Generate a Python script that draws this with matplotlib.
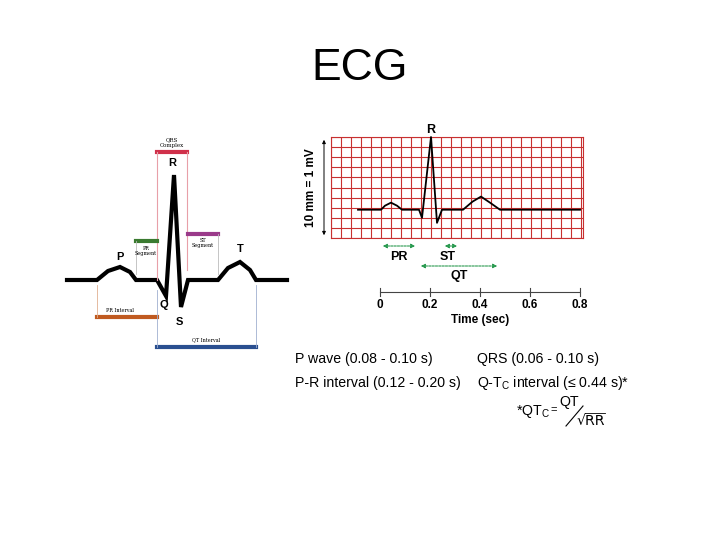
import matplotlib
matplotlib.use("Agg")
import matplotlib.pyplot as plt
import numpy as np

plt.rcParams['font.family'] = ['Liberation Sans', 'DejaVu Sans']

# Left schematic waveform (diagram units: x pixels-like, y amplitude)
left_x = [67, 97, 108, 120, 130, 136, 157, 166, 174, 181, 188, 218, 228, 240, 250, 256, 287]
left_y = [0, 0, 9, 13, 8, 0, 0, -16, 105, -27, 0, 0, 12, 18, 10, 0, 0]

# Right ECG trace: time (s) and amplitude (mV)
t_vals = [-0.088, 0.004, 0.02, 0.044, 0.068, 0.088, 0.156, 0.168, 0.204, 0.228, 0.248,
          0.332, 0.37, 0.404, 0.44, 0.48, 0.8]
mv_vals = [0.28, 0.28, 0.32, 0.35, 0.32, 0.28, 0.28, 0.2, 1.0, 0.15, 0.28,
           0.28, 0.36, 0.41, 0.35, 0.28, 0.28]
time_ticks = [0, 0.2, 0.4, 0.6, 0.8]

fig = plt.figure(figsize=(7.2, 5.4), dpi=100)
ax = fig.add_axes([0, 0, 1, 1])
ax.set_xlim(0, 720); ax.set_ylim(540, 0); ax.axis('off')

ax.text(360, 68, "ECG", fontsize=32, ha='center', va='center')

# Left diagram
base = 280
ly = [base - v for v in left_y]
ax.plot(left_x, ly, color='black', lw=3.0, solid_joinstyle='miter')
serif = ['DejaVu Serif']
ax.plot([157, 187], [152, 152], color='#d0304a', lw=3)
ax.plot([157, 157], [152, 280], color='#e8a0a8', lw=0.8)
ax.plot([187, 187], [152, 270], color='#e8a0a8', lw=0.8)
ax.text(172, 143, "QRS\nComplex", fontsize=4, ha='center', va='center', family=serif)
ax.plot([136, 157], [241, 241], color='#3a7a30', lw=3)
ax.plot([136, 136], [241, 274], color='#bbbbbb', lw=0.6)
ax.text(146, 251, "PR\nSegment", fontsize=3.5, ha='center', va='center', family=serif)
ax.plot([188, 218], [234, 234], color='#9a3a8a', lw=3)
ax.plot([218, 218], [234, 274], color='#bbbbbb', lw=0.6)
ax.text(203, 243, "ST\nSegment", fontsize=3.5, ha='center', va='center', family=serif)
ax.plot([97, 157], [317, 317], color='#c05a20', lw=3)
ax.plot([97, 97], [285, 317], color='#e0b090', lw=0.6)
ax.text(120, 310, "PR Interval", fontsize=3.5, ha='center', va='center', family=serif)
ax.plot([157, 256], [347, 347], color='#2a4f90', lw=3)
ax.plot([157, 157], [290, 347], color='#a0b0d0', lw=0.6)
ax.plot([256, 256], [285, 347], color='#a0b0d0', lw=0.6)
ax.text(206, 340, "QT Interval", fontsize=3.5, ha='center', va='center', family=serif)
for s, x, y in [("P", 120, 257), ("R", 172, 163), ("T", 240, 249), ("Q", 164, 305), ("S", 179, 322)]:
    ax.text(x, y, s, fontsize=8, fontweight='bold', ha='center', va='center')

# Right ECG grid axes
gx0, gx1, gy0, gy1 = 331, 583, 137, 238
rax = fig.add_axes([gx0/720, 1 - gy1/540, (gx1-gx0)/720, (gy1-gy0)/540])
t0 = -0.196; t1 = t0 + 0.04 * 25.2
rax.set_xlim(t0, t1); rax.set_ylim(0, 1.0)
for k in np.arange(t0, t1 + 1e-6, 0.04):
    rax.axvline(k, color='#c83030', lw=0.8)
for k in np.arange(0, 1.0001, 0.1):
    rax.axhline(k, color='#c83030', lw=0.8)
rax.set_xticks([]); rax.set_yticks([])
for sp in rax.spines.values():
    sp.set_color('#c83030')
rax.plot(t_vals, mv_vals, color='black', lw=1.3, clip_on=False, zorder=5)

def tx(t):
    return 380 + t * 250

ax.text(tx(0.204), 130, "R", fontsize=9, fontweight='bold', ha='center', va='center')
ax.text(391, 194, "P", fontsize=9, fontweight='bold', ha='center', va='center')
ax.text(490, 193, "T", fontsize=9, fontweight='bold', ha='center', va='center')
ax.text(422, 231, "Q", fontsize=9, fontweight='bold', ha='center', va='center')
ax.text(437, 231, "S", fontsize=9, fontweight='bold', ha='center', va='center')

ax.annotate("", xy=(324, 137), xytext=(324, 238),
            arrowprops=dict(arrowstyle='<|-|>', color='black', lw=0.7, mutation_scale=5))
ax.text(311, 188, "10 mm = 1 mV", fontsize=8.5, fontweight='bold', rotation=90, ha='center', va='center')

green = '#2a9a50'
for a, b, y, lab, ly2 in [(0, 0.152, 246, "PR", 257), (0.248, 0.32, 246, "ST", 257), (0.152, 0.48, 266, "QT", 276)]:
    ax.annotate("", xy=(tx(b), y), xytext=(tx(a), y),
                arrowprops=dict(arrowstyle='<|-|>', color=green, lw=0.8, ls=(0, (2, 1)), mutation_scale=6))
    ax.text((tx(a) + tx(b)) / 2 + (0 if lab != "ST" else -3), ly2, lab, fontsize=9, fontweight='bold', ha='center', va='center')

ax.plot([tx(0), tx(0.8)], [292, 292], color='#444444', lw=0.8)
for t in time_ticks:
    ax.plot([tx(t), tx(t)], [288, 296], color='#444444', lw=0.8)
    ax.text(tx(t), 305, "0" if t == 0 else f"{t:.1f}", fontsize=8.5, fontweight='bold', ha='center', va='center')
ax.text(tx(0.4), 320, "Time (sec)", fontsize=8.5, fontweight='bold', ha='center', va='center')

# Bottom text
fs = 10.2
ax.text(295, 359, "P wave (0.08 - 0.10 s)", fontsize=fs, va='center')
ax.text(477, 359, "QRS (0.06 - 0.10 s)", fontsize=fs, va='center')
ax.text(295, 383, "P-R interval (0.12 - 0.20 s)", fontsize=fs, va='center')
ax.text(477, 383, r"Q-T$_\mathregular{C}$ interval (≤ 0.44 s)*", fontsize=fs, va='center')
ax.text(516, 411, r"*QT$_\mathregular{C}$", fontsize=fs, va='center')
ax.text(550, 410, "=", fontsize=8, va='center')
ax.text(559, 402, "QT", fontsize=fs, va='center')
ax.plot([566, 583], [426, 406], color='black', lw=0.8)
ax.text(577, 421, "\u221aRR", fontsize=fs, va='center', family=['DejaVu Sans'], ha='left')
ax.plot([585, 605], [413, 413], color='black', lw=0.6)

fig.savefig("out.png", dpi=100)
